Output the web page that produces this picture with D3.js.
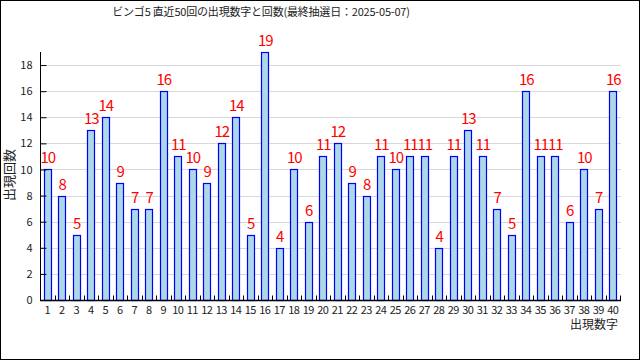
<!DOCTYPE html>
<html><head><meta charset="utf-8">
<script src="https://cdn.jsdelivr.net/npm/d3@7"></script>
<style>body{margin:0;background:#fff}svg{display:block}text{font-family:"Noto Sans CJK JP",sans-serif}</style>
</head><body>
<svg id="c" width="640" height="360"></svg>
<script>
const numbers = d3.range(1, 41).map(String);
const counts = [10,8,5,13,14,9,7,7,16,11,10,9,12,14,5,19,4,10,6,11,12,9,8,11,10,11,11,4,11,13,11,7,5,16,11,11,6,10,7,16];
const yTicks = [0,2,4,6,8,10,12,14,16,18];
const title = "ビンゴ5 直近50回の出現数字と回数(最終抽選日：2025-05-07)";
const xTitle = "出現数字";
const yTitle = "出現回数";

const svg = d3.select("#c");
const L = 40, R = 620, T = 52, B = 300;
const x = d3.scaleBand().domain(numbers).range([L, R]).paddingInner(0.55).paddingOuter(0.275);
const xb = d3.scaleBand().domain(numbers).range([L, R]);
const y = d3.scaleLinear().domain([0, 19]).range([B, T]);

svg.append("rect").attr("x",0.5).attr("y",0.5).attr("width",639).attr("height",359)
  .attr("fill","#fff").attr("stroke","#000");

svg.append("text").attr("x",261).attr("y",16).attr("text-anchor","middle")
  .attr("font-size",11).attr("letter-spacing","-0.2px").attr("fill","#222").text(title);

// grid
svg.append("g").selectAll("line").data(yTicks.filter(d=>d>0)).join("line")
  .attr("x1",L).attr("x2",R+1).attr("y1",d=>Math.round(y(d))+0.5).attr("y2",d=>Math.round(y(d))+0.5)
  .attr("stroke","#d8d8d8");

// bars
svg.append("g").selectAll("rect").data(counts).join("rect")
  .attr("x",(d,i)=>Math.round(x(numbers[i]))+0.5)
  .attr("y",d=>Math.round(y(d))+0.5)
  .attr("width",Math.round(x.bandwidth()))
  .attr("height",d=>Math.round(y(0))-Math.round(y(d)))
  .attr("fill","#add8e6").attr("stroke","#0000ff").attr("stroke-width",1.2);

// value labels
svg.append("g").selectAll("text").data(counts).join("text")
  .attr("x",(d,i)=>xb(numbers[i])+xb.bandwidth()/2+0.5)
  .attr("y",d=>y(d)-6)
  .attr("text-anchor","middle").attr("font-size",15).attr("letter-spacing","-1px")
  .attr("fill","#ff0000").text(d=>d);

// y axis
const ya = d3.axisLeft(y).tickValues(yTicks).tickSizeInner(-6).tickSizeOuter(0).tickPadding(8);
const gy = svg.append("g").attr("transform",`translate(${L+0.5},0)`).call(ya);
gy.select(".domain").attr("stroke","#000");
gy.selectAll(".tick line").attr("stroke","#000");
gy.selectAll("text").attr("font-size",11).attr("fill","#222").attr("font-family",'"Noto Sans CJK JP",sans-serif');
gy.select(".domain").attr("d",`M0,${T}V${B}`);

// x axis
const gx = svg.append("g").attr("transform",`translate(0,${B+0.5})`);
gx.append("line").attr("x1",L).attr("x2",R+1).attr("stroke","#000").attr("stroke-width",1.5);
gx.selectAll(".tk").data(numbers.slice(1)).join("line").attr("class","tk")
  .attr("x1",d=>Math.round(xb(d))+0.5).attr("x2",d=>Math.round(xb(d))+0.5).attr("y1",0).attr("y2",-5).attr("stroke","#000");
gx.append("line").attr("x1",R+0.5).attr("x2",R+0.5).attr("y1",0).attr("y2",-5).attr("stroke","#000");
gx.selectAll(".lb").data(numbers).join("text").attr("class","lb")
  .attr("x",d=>xb(d)+xb.bandwidth()/2).attr("y",13)
  .attr("text-anchor","middle").attr("font-size",11).attr("letter-spacing","-0.5px").attr("fill","#222").text(d=>d);

svg.append("text").attr("x",618).attr("y",329).attr("text-anchor","end")
  .attr("font-size",12).attr("fill","#222").text(xTitle);
svg.append("text").attr("transform","translate(14,175) rotate(-90)").attr("text-anchor","middle")
  .attr("font-size",13).attr("fill","#222").text(yTitle);
</script>
</body></html>
